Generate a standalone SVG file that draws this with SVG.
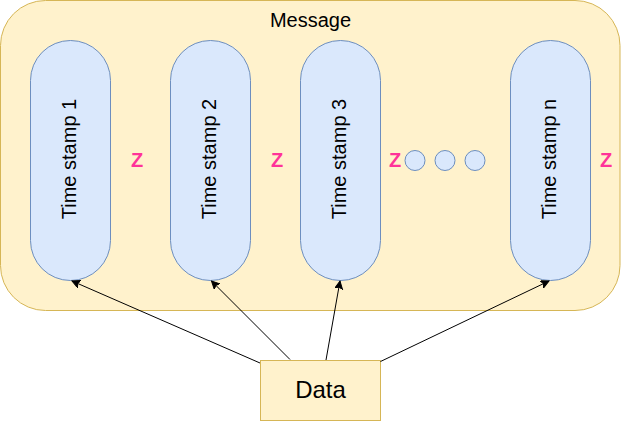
<svg xmlns="http://www.w3.org/2000/svg" width="621" height="421" viewBox="0 0 621 421">
<defs>
<style>
.yel{fill:#fff2cc;stroke:#d6b656;stroke-width:1}
.blu{fill:#dae8fc;stroke:#6c8ebf;stroke-width:1}
.t{font-family:"Liberation Sans",Arial,sans-serif;fill:#000}
.z{font-family:"Liberation Sans",Arial,sans-serif;font-weight:bold;font-size:20px;fill:#ff3399;text-anchor:middle}
.ln{fill:none;stroke:#000;stroke-width:1}
</style>
<marker id="ar" markerWidth="10" markerHeight="10" refX="8" refY="4" orient="auto" markerUnits="userSpaceOnUse">
<path d="M0,0 L8,4 L0,8 L2,4 Z" fill="#000" stroke="#000" stroke-width="1"/>
</marker>
</defs>
<g id="message">
<rect class="yel" x="0.5" y="0.5" width="619.5" height="310" rx="45" ry="45"/>
<text class="t" x="310.5" y="26.5" font-size="20" text-anchor="middle">Message</text>
</g>
<g id="ts1">
<rect class="blu" x="30.5" y="40.5" width="80" height="240" rx="40" ry="40"/>
<text class="t" font-size="20" text-anchor="middle" transform="translate(76,159) rotate(-90)">Time stamp 1</text>
</g>
<g id="ts2">
<rect class="blu" x="170.5" y="40.5" width="80" height="240" rx="40" ry="40"/>
<text class="t" font-size="20" text-anchor="middle" transform="translate(216,159) rotate(-90)">Time stamp 2</text>
</g>
<g id="ts3">
<rect class="blu" x="300.5" y="40.5" width="80" height="240" rx="40" ry="40"/>
<text class="t" font-size="20" text-anchor="middle" transform="translate(346,159) rotate(-90)">Time stamp 3</text>
</g>
<g id="tsn">
<rect class="blu" x="510.5" y="40.5" width="80" height="240" rx="40" ry="40"/>
<text class="t" font-size="20" text-anchor="middle" transform="translate(556,159) rotate(-90)">Time stamp n</text>
</g>
<g id="z1"><text class="z" x="137" y="167.3">Z</text></g>
<g id="z2"><text class="z" x="277" y="167.3">Z</text></g>
<g id="z3"><text class="z" x="395" y="167.3">Z</text></g>
<g id="z4"><text class="z" x="606" y="167.3">Z</text></g>
<g id="dot1"><circle class="blu" cx="415" cy="160.5" r="10"/></g>
<g id="dot2"><circle class="blu" cx="445" cy="160.5" r="10"/></g>
<g id="dot3"><circle class="blu" cx="475" cy="160.5" r="10"/></g>
<g id="data">
<rect class="yel" x="260.5" y="360.5" width="120" height="60"/>
<text class="t" x="320.5" y="398" font-size="24" text-anchor="middle">Data</text>
</g>
<g id="connectors">
<line class="ln" x1="260" y1="363" x2="72" y2="281" marker-end="url(#ar)"/>
<line class="ln" x1="290" y1="359.5" x2="211.5" y2="281" marker-end="url(#ar)"/>
<line class="ln" x1="326" y1="360" x2="340" y2="281" marker-end="url(#ar)"/>
<line class="ln" x1="380.5" y1="361.5" x2="549" y2="281" marker-end="url(#ar)"/>
</g>
</svg>
